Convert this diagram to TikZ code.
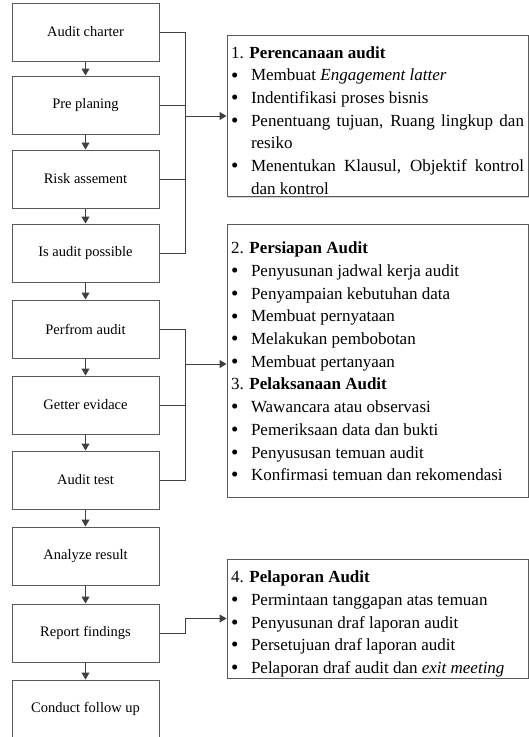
\documentclass[tikz,border=0pt]{standalone}
\usepackage{fontspec}
\setmainfont{Liberation Serif}
\usetikzlibrary{arrows.meta,shadows}

\definecolor{linegray}{HTML}{404040}
\definecolor{boxgray}{HTML}{5A5A5A}

% list lines for the right panels
\newcommand{\phead}[2]{\par\noindent #1. \textbf{#2}}
\newcommand{\pitem}[1]{\par\hangindent=20pt\hangafter=1\noindent
  \makebox[20pt][l]{\fontsize{21}{21}\selectfont\raisebox{-1.2pt}{\textbullet}}#1\par}
\newcommand{\pgap}[1]{\par\kern#1\hrule height 0pt}

\tikzset{
  stepbox/.style={draw=boxgray, line width=1pt, minimum width=147pt, minimum height=58pt,
    inner sep=2pt, font=\fontsize{14.5}{17}\selectfont},
  panel/.style={draw=boxgray, line width=1pt, fill=white, text width=293pt, inner xsep=4pt,
    inner ysep=0pt, align=justify, font=\fontsize{17}{22.7}\selectfont,
    drop shadow={shadow xshift=1.2pt, shadow yshift=-1.2pt, fill=black!35}},
  link/.style={draw=linegray, line width=1pt},
  flow/.style={draw=linegray, line width=1pt, -{Triangle[length=7pt,width=8pt]}}
}

\begin{document}
\begin{tikzpicture}[x=1pt,y=-1pt]
        \useasboundingbox (0,0) rectangle (529,737);

        % Process steps
        \node[stepbox] (charter)  at (85.5,32)  {Audit charter};
        \node[stepbox] (preplan)  at (85.5,105) {Pre planing};
        \node[stepbox] (risk)     at (85.5,179) {Risk assement};
        \node[stepbox] (possible) at (85.5,253) {Is audit possible};
        \node[stepbox] (perform)  at (85.5,329) {Perfrom audit};
        \node[stepbox] (evidence) at (85.5,405) {Getter evidace};
        \node[stepbox] (test)     at (85.5,480) {Audit test};
        \node[stepbox] (analyze)  at (85.5,556) {Analyze result};
        \node[stepbox] (report)   at (85.5,633) {Report findings};
        \node[stepbox] (followup) at (85.5,709) {Conduct follow up};

        % Arrows between steps
        \draw[flow] (charter) -- (preplan);
        \draw[flow] (preplan) -- (risk);
        \draw[flow] (risk) -- (possible);
        \draw[flow] (possible) -- (perform);
        \draw[flow] (perform) -- (evidence);
        \draw[flow] (evidence) -- (test);
        \draw[flow] (test) -- (analyze);
        \draw[flow] (analyze) -- (report);
        \draw[flow] (report) -- (followup);

        % Stage panels
        \node[panel, minimum height=160pt] (plan) at (377.5,116) {%
          \phead{1}{Perencanaan audit}
          \pitem{Membuat \textit{Engagement latter}}
          \pitem{Indentifikasi proses bisnis}
          \pitem{Penentuang tujuan, Ruang lingkup dan\linebreak resiko}
          \pitem{Menentukan Klausul, Objektif kontrol\linebreak dan kontrol}
          \pgap{2pt}};

        \node[panel, minimum height=273pt] (prep) at (377.5,360.5) {%
          \phead{2}{Persiapan Audit}
          \pitem{Penyusunan jadwal kerja audit}
          \pitem{Penyampaian kebutuhan data}
          \pitem{Membuat pernyataan}
          \pitem{Melakukan pembobotan}
          \pitem{Membuat pertanyaan}
          \phead{3}{Pelaksanaan Audit}
          \pitem{Wawancara atau observasi}
          \pitem{Pemeriksaan data dan bukti}
          \pitem{Penyususan temuan audit}
          \pitem{Konfirmasi temuan dan rekomendasi}
          \pgap{8pt}};

        \node[panel, minimum height=119pt] (reporting) at (377.5,618.5) {%
          \phead{4}{Pelaporan Audit}
          \pitem{Permintaan tanggapan atas temuan}
          \pitem{Penyusunan draf laporan audit}
          \pitem{Persetujuan draf laporan audit}
          \pitem{Pelaporan draf audit dan \textit{exit meeting}}};

        % Planning group
        \draw[link] (charter.east) -- ++(26,0) |- (possible.east);
        \draw[link] (preplan.east) -- ++(26,0);
        \draw[link] (risk.east) -- ++(26,0);
        \coordinate (j1) at (185,116);
        \draw[flow] (j1) -- (plan.west);

        % Fieldwork group
        \draw[link] (perform.east) -- ++(26,0) |- (test.east);
        \draw[link] (evidence.east) -- ++(26,0);
        \coordinate (j2) at (185,364);
        \draw[flow] (j2) -- (j2 -| prep.west);

        % Reporting
        \draw[flow] (report.east) -- ++(26,0) |- (reporting.west);
\end{tikzpicture}
\end{document}
